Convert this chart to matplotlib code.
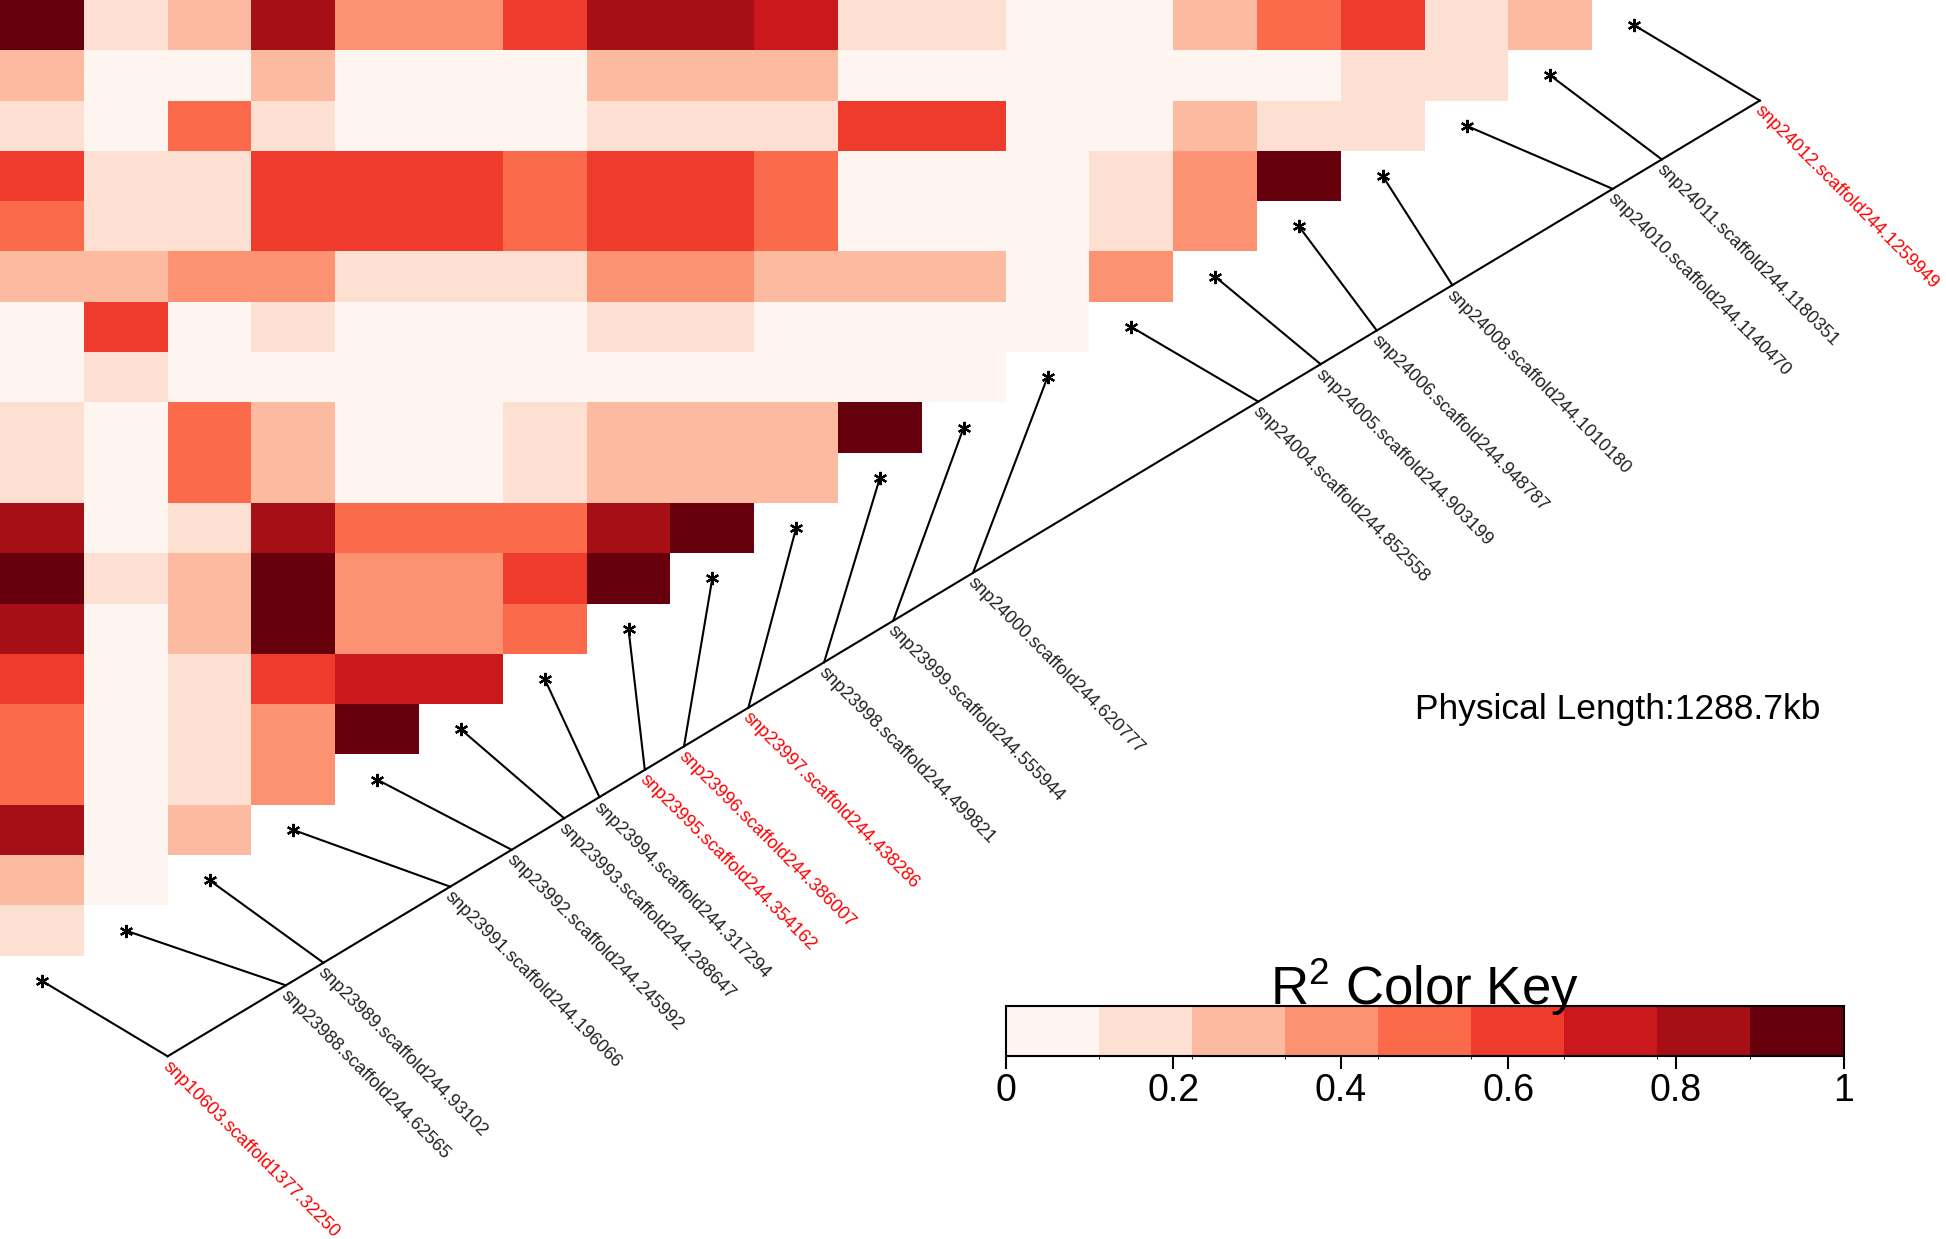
import numpy as np
import matplotlib
matplotlib.use('Agg')
import matplotlib.pyplot as plt
from matplotlib.colors import ListedColormap, BoundaryNorm
from matplotlib.cm import ScalarMappable

plt.rcParams['font.family'] = ['Liberation Sans', 'DejaVu Sans']
plt.rcParams['mathtext.fontset'] = 'custom'
plt.rcParams['mathtext.rm'] = 'Liberation Sans'

# SNPs in map order
snp_ids = ['snp10603', 'snp23988', 'snp23989', 'snp23991', 'snp23992', 'snp23993',
           'snp23994', 'snp23995', 'snp23996', 'snp23997', 'snp23998', 'snp23999',
           'snp24000', 'snp24004', 'snp24005', 'snp24006', 'snp24008', 'snp24010',
           'snp24011', 'snp24012']
scaffolds = ['scaffold1377'] + ['scaffold244'] * 19
positions = [32250, 62565, 93102, 196066, 245992, 288647, 317294, 354162, 386007,
             438286, 499821, 555944, 620777, 852558, 903199, 948787, 1010180,
             1140470, 1180351, 1259949]
# position along the map line (kb); first snp sits on another scaffold
map_pos_kb = [-33.5, 62.565, 93.102, 196.066, 245.992, 288.647, 317.294, 354.162,
              386.007, 438.286, 499.821, 555.944, 620.777, 852.558, 903.199,
              948.787, 1010.180, 1140.470, 1180.351, 1259.949]
highlight = ['snp10603', 'snp23995', 'snp23996', 'snp23997', 'snp24012']
physical_length = '1288.7kb'

# pairwise R^2, one list per row from the top (last snp) down
r2_rows = [
    [0.95, 0.16, 0.28, 0.83, 0.39, 0.39, 0.61, 0.83, 0.83, 0.72, 0.16, 0.16, 0.05, 0.05, 0.28, 0.50, 0.61, 0.16, 0.28],
    [0.28, 0.05, 0.05, 0.28, 0.05, 0.05, 0.05, 0.28, 0.28, 0.28, 0.05, 0.05, 0.05, 0.05, 0.05, 0.05, 0.16, 0.16],
    [0.16, 0.05, 0.50, 0.16, 0.05, 0.05, 0.05, 0.16, 0.16, 0.16, 0.61, 0.61, 0.05, 0.05, 0.28, 0.16, 0.16],
    [0.61, 0.16, 0.16, 0.61, 0.61, 0.61, 0.50, 0.61, 0.61, 0.50, 0.05, 0.05, 0.05, 0.16, 0.39, 0.95],
    [0.50, 0.16, 0.16, 0.61, 0.61, 0.61, 0.50, 0.61, 0.61, 0.50, 0.05, 0.05, 0.05, 0.16, 0.39],
    [0.28, 0.28, 0.39, 0.39, 0.16, 0.16, 0.16, 0.39, 0.39, 0.28, 0.28, 0.28, 0.05, 0.39],
    [0.05, 0.61, 0.05, 0.16, 0.05, 0.05, 0.05, 0.16, 0.16, 0.05, 0.05, 0.05, 0.05],
    [0.05, 0.16, 0.05, 0.05, 0.05, 0.05, 0.05, 0.05, 0.05, 0.05, 0.05, 0.05],
    [0.16, 0.05, 0.50, 0.28, 0.05, 0.05, 0.16, 0.28, 0.28, 0.28, 0.95],
    [0.16, 0.05, 0.50, 0.28, 0.05, 0.05, 0.16, 0.28, 0.28, 0.28],
    [0.83, 0.05, 0.16, 0.83, 0.50, 0.50, 0.50, 0.83, 0.95],
    [0.95, 0.16, 0.28, 0.95, 0.39, 0.39, 0.61, 0.95],
    [0.83, 0.05, 0.28, 0.95, 0.39, 0.39, 0.50],
    [0.61, 0.05, 0.16, 0.61, 0.72, 0.72],
    [0.50, 0.05, 0.16, 0.39, 0.95],
    [0.50, 0.05, 0.16, 0.39],
    [0.83, 0.05, 0.28],
    [0.28, 0.05],
    [0.16],
]

reds9 = ['#FFF5F0', '#FEE0D2', '#FCBBA1', '#FC9272', '#FB6A4A',
         '#EF3B2C', '#CB181D', '#A50F15', '#67000D']
cmap = ListedColormap(reds9)
norm = BoundaryNorm(np.linspace(0, 1, 10), cmap.N)

n = len(snp_ids)
ld = np.full((n, n), np.nan)
for r, row in enumerate(r2_rows):
    j = n - 1 - r
    ld[j, :len(row)] = row

fig = plt.figure(figsize=(19.46, 12.39), dpi=100)
ax = fig.add_axes([0, 0, 1, 1])
ax.pcolormesh(np.arange(n + 1), np.arange(n + 1), np.ma.masked_invalid(ld),
              cmap=cmap, norm=norm, shading='flat', antialiased=False)

# genetic map line, parallel to the heatmap diagonal
m = np.array(map_pos_kb)
line_x = 2 + (n - 1) * (m - m[0]) / (m[-1] - m[0])
line_y = line_x - 3
ax.plot([line_x[0], line_x[-1]], [line_y[0], line_y[-1]], color='black', lw=1.5)

diag = np.arange(n) + 0.5
for k in range(n):
    ax.plot([diag[k], line_x[k]], [diag[k], line_y[k]], color='black', lw=1.5)
    label = f'{snp_ids[k]}.{scaffolds[k]}.{positions[k]}'
    col = 'red' if snp_ids[k] in highlight else '#222222'
    ax.annotate(label, (line_x[k], line_y[k]), xytext=(2.5, -1), textcoords='offset points',
                rotation=-45, rotation_mode='anchor', ha='left', va='top',
                fontsize=13.1, color=col)
ax.plot(diag, diag, ls='none', marker=(6, 2, 0), ms=9.5, mew=1.6, color='black')

ax.text(19.3, 5.71, 'Physical Length:' + physical_length, ha='center', va='baseline',
        fontsize=25.5)

ax.set_xlim(0, 1946 / 83.8)
ax.set_ylim(20 - 1239 / 50.3, 20)
ax.set_axis_off()

# colour key
cax = ax.inset_axes([12, -1, 10, 1], transform=ax.transData)
sm = ScalarMappable(norm=norm, cmap=cmap)
cb = fig.colorbar(sm, cax=cax, orientation='horizontal', ticks=np.linspace(0, 1, 6))
cb.set_ticklabels(['0', '0.2', '0.4', '0.6', '0.8', '1'])
cb.outline.set_linewidth(1.5)
cax.tick_params(length=9, width=1.5, labelsize=27, pad=3)
cax.text(0.5, 1.02, r'$\mathregular{R^2}$ Color Key', transform=cax.transAxes,
         ha='center', va='baseline', fontsize=38)

fig.savefig('out.png', dpi=100)
